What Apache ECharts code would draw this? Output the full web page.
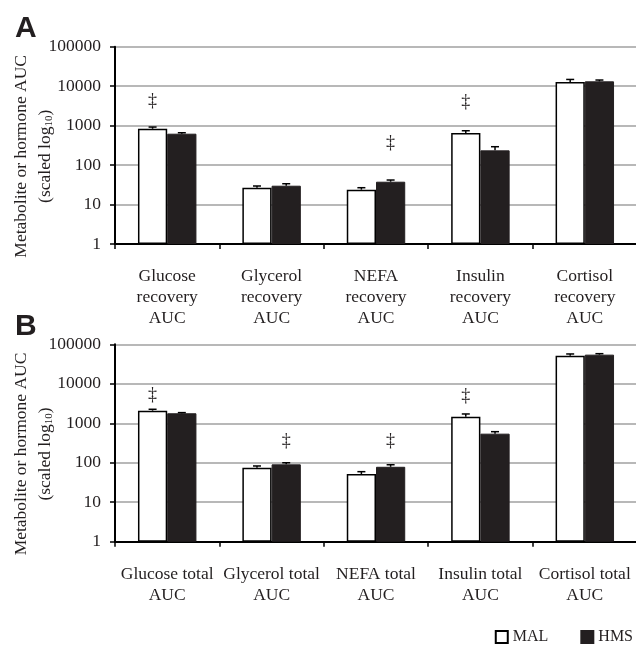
<!DOCTYPE html>
<html><head><meta charset="utf-8">
<script src="https://cdn.jsdelivr.net/npm/echarts@6/dist/echarts.min.js"></script>
<style>html,body{margin:0;padding:0;background:#fff}#c{width:636px;height:645px}</style>
</head><body><div id="c"></div>
<script>
// ---- data ----
const catsA = ['Glucose\nrecovery\nAUC', 'Glycerol\nrecovery\nAUC', 'NEFA\nrecovery\nAUC', 'Insulin\nrecovery\nAUC', 'Cortisol\nrecovery\nAUC'];
const catsB = ['Glucose total\nAUC', 'Glycerol total\nAUC', 'NEFA total\nAUC', 'Insulin total\nAUC', 'Cortisol total\nAUC'];
const malA = [833, 26.7, 23.8, 649, 12700];
const malAErr = [87, 2.8, 2.9, 93, 2100];
const hmsA = [624, 30, 37.9, 236, 13250];
const hmsAErr = [36, 3.7, 3.9, 56, 1050];
const malB = [2084, 75, 51.9, 1469, 51500];
const malBErr = [176, 7.8, 7.5, 250, 5400];
const hmsB = [1791, 91, 79, 545, 54700];
const hmsBErr = [69, 9, 10, 67, 3200];
const yTickLabels = {1: '1', 10: '10', 100: '100', 1000: '1000', 10000: '10000', 100000: '100000'};
// daggers: [category index, group (0 = MAL, 1 = HMS), value position]
const daggersA = [[0, 0, 4250], [2, 1, 356], [3, 0, 3960]];
const daggersB = [[0, 0, 5060], [1, 1, 342], [2, 1, 350], [3, 0, 4720]];
const seriesNames = ['MAL', 'HMS'];

// ---- styling ----
const FONT = 'Liberation Serif';
const TXT = '#231f20';
const BAR_FRAC = 0.28;
const chart = echarts.init(document.getElementById('c'));

function groupOffset(api, g) {
  const bw = api.size([1, 0])[0] * BAR_FRAC;
  return g === 0 ? -bw / 2 : bw / 2;
}
function errSeries(vals, errs, g, idx) {
  return {
    type: 'custom', xAxisIndex: idx, yAxisIndex: idx, z: 5, silent: true,
    data: vals.map((v, i) => [i, v, errs[i]]),
    encode: { x: 0, y: 1 },
    renderItem: function (params, api) {
      const i = api.value(0), m = api.value(1), e = api.value(2);
      const p0 = api.coord([i, m]);
      const p1 = api.coord([i, m + e]);
      const x = p0[0] + groupOffset(api, g);
      return {
        type: 'group', children: [
          { type: 'line', shape: { x1: x, y1: p0[1], x2: x, y2: p1[1] }, style: { stroke: '#000', lineWidth: 1.5 } },
          { type: 'line', shape: { x1: x - 4, y1: p1[1], x2: x + 4, y2: p1[1] }, style: { stroke: '#000', lineWidth: 1.5 } }
        ]
      };
    }
  };
}
function daggerSeries(list, idx) {
  return {
    type: 'custom', xAxisIndex: idx, yAxisIndex: idx, z: 6, silent: true,
    data: list.map(d => [d[0], d[2], d[1]]),
    encode: { x: 0, y: 1 },
    renderItem: function (params, api) {
      const p = api.coord([api.value(0), api.value(1)]);
      const x = p[0] + groupOffset(api, api.value(2));
      return { type: 'text', style: { text: '\u2021', x: x, y: p[1], align: 'center', verticalAlign: 'middle', font: '18px ' + FONT, fill: TXT } };
    }
  };
}
function barSeries(name, vals, idx, isMal) {
  return {
    name: name, type: 'bar', xAxisIndex: idx, yAxisIndex: idx,
    data: vals, barWidth: (BAR_FRAC * 100) + '%', barGap: '0%',
    itemStyle: isMal ? { color: '#fff', borderColor: '#000', borderWidth: 1.5 } : { color: '#231f20', borderColor: '#231f20', borderWidth: 1 },
    emphasis: { disabled: true }
  };
}
function xAxis(cats, idx) {
  return {
    type: 'category', gridIndex: idx, data: cats,
    axisLine: { lineStyle: { color: '#000', width: 2 } },
    axisTick: { show: true, length: 5, lineStyle: { color: '#000', width: 1.5 } },
    axisLabel: { interval: 0, margin: 22, fontFamily: FONT, fontSize: 17.5, lineHeight: 21, color: TXT }
  };
}
function yAxis(idx) {
  return {
    type: 'log', logBase: 10, min: 1, max: 100000, gridIndex: idx,
    name: 'Metabolite or hormone AUC\n(scaled log{sub|10})',
    nameLocation: 'middle', nameGap: 58, nameMoveOverlap: false,
    nameTextStyle: {
      fontFamily: FONT, fontSize: 17.5, lineHeight: 24, color: TXT, padding: [0, 22, 0, 0],
      rich: { sub: { fontFamily: FONT, fontSize: 11, color: TXT, padding: [8, 0, 0, 0] } }
    },
    axisLine: { show: true, lineStyle: { color: '#000', width: 2 } },
    axisTick: { show: true, length: 5, lineStyle: { color: '#000', width: 1.5 } },
    splitLine: { show: true, lineStyle: { color: '#a0a0a0', width: 1.5 } },
    axisLabel: { margin: 14, fontFamily: FONT, fontSize: 17.5, color: TXT, formatter: v => yTickLabels[Math.round(v)] || '' }
  };
}

chart.setOption({
  animation: false,
  backgroundColor: '#fff',
  title: [
    { text: 'A', left: 15, top: 14, padding: 0, textStyle: { fontFamily: 'Liberation Sans', fontWeight: 'bold', fontSize: 30, color: TXT } },
    { text: 'B', left: 15, top: 312, padding: 0, textStyle: { fontFamily: 'Liberation Sans', fontWeight: 'bold', fontSize: 30, color: TXT } }
  ],
  legend: {
    data: seriesNames, right: 3, top: 629, padding: 0, itemWidth: 12, itemHeight: 12, itemGap: 32,
    icon: 'rect', textStyle: { fontFamily: FONT, fontSize: 16, color: TXT }, selectedMode: false
  },
  grid: [
    { left: 115, top: 46.7, width: 522, height: 197.3, containLabel: false, outerBoundsMode: 'none' },
    { left: 115, top: 344.3, width: 522, height: 197.4, containLabel: false, outerBoundsMode: 'none' }
  ],
  xAxis: [xAxis(catsA, 0), xAxis(catsB, 1)],
  yAxis: [yAxis(0), yAxis(1)],
  series: [
    barSeries('MAL', malA, 0, true), barSeries('HMS', hmsA, 0, false),
    barSeries('MAL', malB, 1, true), barSeries('HMS', hmsB, 1, false),
    errSeries(malA, malAErr, 0, 0), errSeries(hmsA, hmsAErr, 1, 0),
    errSeries(malB, malBErr, 0, 1), errSeries(hmsB, hmsBErr, 1, 1),
    daggerSeries(daggersA, 0), daggerSeries(daggersB, 1)
  ]
});
</script></body></html>
